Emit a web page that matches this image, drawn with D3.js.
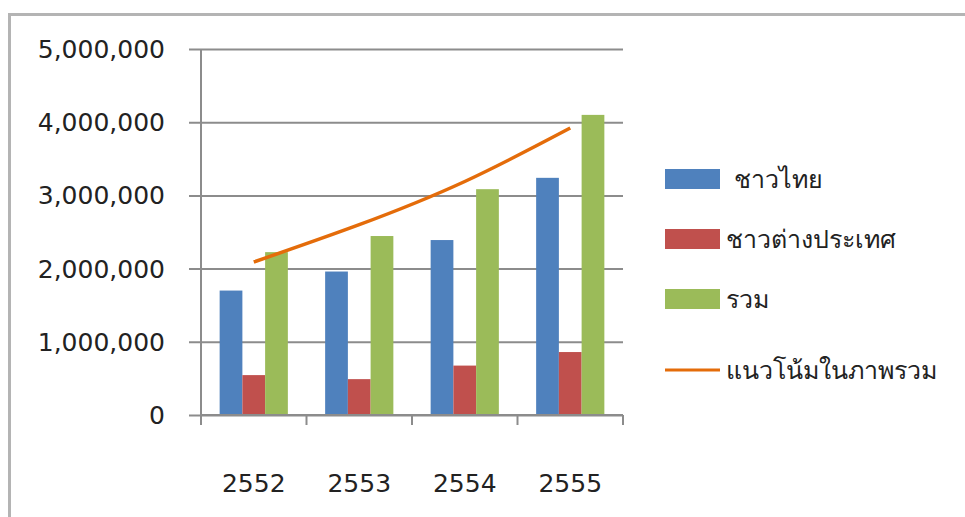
<!DOCTYPE html>
<html>
<head>
<meta charset="utf-8">
<script src="https://cdn.jsdelivr.net/npm/d3@7"></script>
<style>
  body { margin: 0; background: #fff; }
  text { font-family: "DejaVu Sans", Tahoma, sans-serif; fill: #222; }
</style>
</head>
<body>
<div id="chart"></div>
<script>
// data
const years = ["2552", "2553", "2554", "2555"];
const thai = [1700000, 1960000, 2390000, 3240000];
const foreign = [545000, 490000, 675000, 860000];
const total = [2225000, 2445000, 3085000, 4100000];
const trend = [2090000, 2600000, 3190000, 3920000];
const yTicks = [0, 1000000, 2000000, 3000000, 4000000, 5000000];

const seriesNames = [" ชาวไทย", "ชาวต่างประเทศ", "รวม"];
const seriesColors = ["#4f81bd", "#c0504d", "#9bbb59"];
const trendName = "แนวโน้มในภาพรวม";
const trendColor = "#e46c0a";

const width = 965, height = 517;
const plotL = 201, plotR = 623, plotT = 49, plotB = 415;

const svg = d3.select("#chart").append("svg")
    .attr("width", width)
    .attr("height", height);

// outer frame
svg.append("rect")
    .attr("x", 9.5).attr("y", 14.5)
    .attr("width", 1000).attr("height", 600)
    .attr("fill", "none")
    .attr("stroke", "#b4b4b4")
    .attr("stroke-width", 3);

const x = d3.scaleBand().domain(years).range([plotL, plotR]).paddingInner(0).paddingOuter(0);
const inner = d3.scaleBand().domain([0, 1, 2]).range([0, x.bandwidth()]).paddingOuter(0.82).paddingInner(0);
const y = d3.scaleLinear().domain([0, 5000000]).range([plotB, plotT]);

// gridlines + y ticks
svg.append("g")
    .attr("transform", `translate(${plotR},0)`)
    .call(d3.axisLeft(y).tickValues(yTicks).tickSize(plotR - plotL + 12).tickFormat(""))
    .call(g => g.select(".domain").remove())
    .call(g => g.selectAll("line").attr("stroke", "#8c8c8c").attr("stroke-width", 2));

svg.append("g")
    .selectAll("text")
    .data(yTicks)
    .join("text")
    .attr("x", 165)
    .attr("y", d => y(d) + 9)
    .attr("text-anchor", "end")
    .attr("font-size", 25)
    .text(d => d3.format(",")(d));

// y axis line
svg.append("line")
    .attr("x1", plotL).attr("x2", plotL)
    .attr("y1", plotT).attr("y2", plotB + 10)
    .attr("stroke", "#8c8c8c").attr("stroke-width", 2);

// x axis ticks at category boundaries
const xBounds = years.map(d => x(d)).concat([plotR]);
svg.append("g")
    .selectAll("line")
    .data(xBounds)
    .join("line")
    .attr("x1", d => d).attr("x2", d => d)
    .attr("y1", plotB).attr("y2", plotB + 10)
    .attr("stroke", "#8c8c8c").attr("stroke-width", 2);

// bars
const seriesData = [thai, foreign, total];
seriesData.forEach((vals, si) => {
    svg.append("g")
        .selectAll("rect")
        .data(vals)
        .join("rect")
        .attr("x", (d, i) => x(years[i]) + inner(si))
        .attr("y", d => y(d))
        .attr("width", inner.bandwidth())
        .attr("height", d => y(0) - y(d))
        .attr("fill", seriesColors[si]);
});

// x axis bottom line over bars
svg.append("line")
    .attr("x1", plotL).attr("x2", plotR)
    .attr("y1", plotB).attr("y2", plotB)
    .attr("stroke", "#8c8c8c").attr("stroke-width", 2);

// trend line
const line = d3.line()
    .x((d, i) => x(years[i]) + x.bandwidth() / 2)
    .y(d => y(d))
    .curve(d3.curveNatural);
svg.append("path")
    .datum(trend)
    .attr("d", line)
    .attr("fill", "none")
    .attr("stroke", trendColor)
    .attr("stroke-width", 3.5);

// x labels
svg.append("g")
    .selectAll("text")
    .data(years)
    .join("text")
    .attr("x", d => x(d) + x.bandwidth() / 2)
    .attr("y", 492)
    .attr("text-anchor", "middle")
    .attr("font-size", 25)
    .text(d => d);

// legend
const legend = svg.append("g");
const legY = [179, 239, 299, 370];
seriesNames.forEach((name, i) => {
    legend.append("rect")
        .attr("x", 665).attr("y", legY[i] - 10)
        .attr("width", 55).attr("height", 20)
        .attr("fill", seriesColors[i]);
    legend.append("text")
        .attr("x", 726).attr("y", legY[i] + 9)
        .attr("font-size", 25)
        .style("white-space", "pre")
        .text(name);
});
legend.append("line")
    .attr("x1", 665).attr("x2", 720)
    .attr("y1", legY[3]).attr("y2", legY[3])
    .attr("stroke", trendColor).attr("stroke-width", 3);
legend.append("text")
    .attr("x", 726).attr("y", legY[3] + 9)
    .attr("font-size", 25)
    .text(trendName);
</script>
</body>
</html>
